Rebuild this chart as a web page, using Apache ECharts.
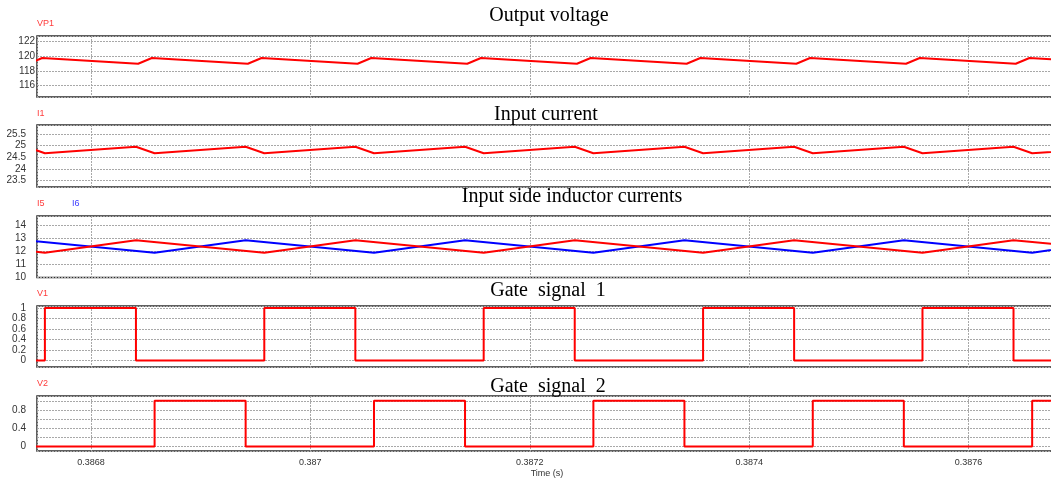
<!DOCTYPE html>
<html>
<head>
<meta charset="utf-8">
<script src="https://cdn.jsdelivr.net/npm/echarts@6/dist/echarts.min.js"></script>
<style>
  html, body { margin: 0; padding: 0; background: #fff; }
  #chart { width: 1051px; height: 481px; }
</style>
</head>
<body>
<div id="chart"></div>
<script>
// Shared time axis (s)
const timeMin = 0.3867508;
const timeMax = 0.3876779;
const timeTickLabels = [0.3868, 0.387, 0.3872, 0.3874, 0.3876];

// Panel titles
const panelTitles = ['Output voltage', 'Input current', 'Input side inductor currents', 'Gate  signal  1', 'Gate  signal  2'];

// Tick labels of each panel's value axis
const vp1Ticks = [116, 118, 120, 122];
const i1Ticks = [23.5, 24, 24.5, 25, 25.5];
const iLTicks = [10, 11, 12, 13, 14];
const v1Ticks = [0, 0.2, 0.4, 0.6, 0.8, 1];
const v2Ticks = [0, 0.4, 0.8];

// Output voltage VP1 (V): ripple knots
const vp1Time = [0.386743, 0.3867555, 0.386843, 0.3868555, 0.386943, 0.3869555, 0.387043, 0.3870555,
  0.387143, 0.3871555, 0.387243, 0.3872555, 0.387343, 0.3873555, 0.387443, 0.3874555,
  0.387543, 0.3875555, 0.387643, 0.3876555, 0.387743];
const vp1Value = [118.95, 119.72, 118.95, 119.72, 118.95, 119.72, 118.95, 119.72,
  118.95, 119.72, 118.95, 119.72, 118.95, 119.72, 118.95, 119.72,
  118.95, 119.72, 118.95, 119.72, 118.95];

// Input current I1 (A)
const i1Time = [0.386741, 0.386758, 0.386841, 0.386858, 0.386941, 0.386958, 0.387041, 0.387058,
  0.387141, 0.387158, 0.387241, 0.387258, 0.387341, 0.387358, 0.387441, 0.387458,
  0.387541, 0.387558, 0.387641, 0.387658, 0.387741];
const i1Value = [24.95, 24.67, 24.95, 24.67, 24.95, 24.67, 24.95, 24.67,
  24.95, 24.67, 24.95, 24.67, 24.95, 24.67, 24.95, 24.67,
  24.95, 24.67, 24.95, 24.67, 24.95];

// Inductor currents I5 / I6 (A)
const i5Time = [0.386641, 0.386758, 0.386841, 0.386958, 0.387041, 0.387158, 0.387241, 0.387358,
  0.387441, 0.387558, 0.387641, 0.387758];
const i5Value = [12.88, 11.92, 12.88, 11.92, 12.88, 11.92, 12.88, 11.92, 12.88, 11.92, 12.88, 11.92];
const i6Time = [0.386741, 0.386858, 0.386941, 0.387058, 0.387141, 0.387258, 0.387341, 0.387458,
  0.387541, 0.387658, 0.387741];
const i6Value = [12.88, 11.92, 12.88, 11.92, 12.88, 11.92, 12.88, 11.92, 12.88, 11.92, 12.88];

// Gate pulse edges (s)
const gate1On  = [0.386758, 0.386958, 0.387158, 0.387358, 0.387558];
const gate1Off = [0.386841, 0.387041, 0.387241, 0.387441, 0.387641];
const gate2On  = [0.386858, 0.387058, 0.387258, 0.387458, 0.387658];
const gate2Off = [0.386941, 0.387141, 0.387341, 0.387541];

function zip(t, v) { return t.map((x, i) => [x, v[i]]); }

// square wave from rising / falling edge times
function pulses(on, off) {
  const pts = [[timeMin - 0.00001, 0]];
  on.forEach((t, i) => {
    pts.push([t, 0], [t, 1]);
    if (off[i] !== undefined) pts.push([off[i], 1], [off[i], 0]);
  });
  const last = pts[pts.length - 1][1];
  pts.push([timeMax + 0.00001, last]);
  return pts;
}

const RED = '#ff0000', BLUE = '#0000ff';
const LABEL_FONT = 'Liberation Sans, Arial, sans-serif';
const TITLE_FONT = 'Liberation Serif, Times New Roman, serif';

// panel frames (px); the plot runs past the right edge of the canvas
const PLOT_LEFT = 37, PLOT_WIDTH = 1017;
const panels = [
  { top: 36,  height: 61,   min: 114.48, max: 122.67, ticks: vp1Ticks, margin: 2 },
  { top: 125, height: 62,   min: 23.217, max: 25.885, ticks: i1Ticks,  margin: 11 },
  { top: 216, height: 61.5, min: 10,     max: 14.75,  ticks: iLTicks,  margin: 11 },
  { top: 306, height: 61,   min: -0.125, max: 1.038,  ticks: v1Ticks,  margin: 11 },
  { top: 396, height: 55,   min: -0.1,   max: 1.104,  ticks: v2Ticks,  margin: 11 }
];

function inList(list, v, eps) { return list.some(x => Math.abs(x - v) < eps); }
function fmt(v) { return String(Math.round(v * 10000) / 10000); }

const gridLine = { show: true, lineStyle: { color: '#a8a8a8', width: 1, type: [2, 1] } };

const grids = panels.map(p => ({
  left: PLOT_LEFT, width: PLOT_WIDTH, top: p.top, height: p.height,
  show: true, borderColor: '#2b2b2b', borderWidth: 1.5, backgroundColor: '#fff',
  containLabel: false, outerBoundsMode: 'none'
}));

const xAxes = panels.map((p, i) => ({
  type: 'value', gridIndex: i, min: timeMin, max: timeMax,
  axisLine: { show: false }, axisTick: { show: false },
  splitLine: gridLine,
  axisLabel: {
    show: i === panels.length - 1,
    margin: 7,
    fontSize: 9, fontFamily: LABEL_FONT, color: '#333',
    formatter: v => inList(timeTickLabels, v, 1e-9) ? fmt(v) : ''
  }
}));

const yAxes = panels.map((p, i) => ({
  type: 'value', gridIndex: i, min: p.min, max: p.max,
  axisLine: { show: false }, axisTick: { show: false },
  splitLine: gridLine,
  axisLabel: {
    margin: p.margin, fontSize: 10, fontFamily: LABEL_FONT, color: '#333',
    formatter: v => inList(p.ticks, v, 1e-6) ? fmt(v) : ''
  }
}));

function trace(data, xi, color) {
  return {
    type: 'line', xAxisIndex: xi, yAxisIndex: xi, data: data,
    symbol: 'none', showSymbol: false, clip: true, animation: false,
    lineStyle: { color: color, width: 2 }, itemStyle: { color: color }
  };
}

const series = [
  trace(zip(vp1Time, vp1Value), 0, RED),
  trace(zip(i1Time, i1Value), 1, RED),
  trace(zip(i6Time, i6Value), 2, BLUE),
  trace(zip(i5Time, i5Value), 2, RED),
  trace(pulses(gate1On, gate1Off), 3, RED),
  trace(pulses(gate2On, gate2Off), 4, RED)
];

function txt(text, x, y, font, fill, align) {
  return {
    type: 'text', x: x, y: y, z: 100,
    style: { text: text, font: font, fill: fill, align: align, textAlign: align,
             verticalAlign: 'middle', textVerticalAlign: 'middle' }
  };
}

const titleFont = '20px ' + TITLE_FONT;
const nameFont = '9px ' + LABEL_FONT;

const graphic = [
  txt(panelTitles[0], 549, 16, titleFont, '#000', 'center'),
  txt(panelTitles[1], 546, 115, titleFont, '#000', 'center'),
  txt(panelTitles[2], 572, 197, titleFont, '#000', 'center'),
  txt(panelTitles[3], 548, 291, titleFont, '#000', 'center'),
  txt(panelTitles[4], 548, 386.5, titleFont, '#000', 'center'),
  txt('VP1', 37, 24, nameFont, '#ff3b3b', 'left'),
  txt('I1', 37, 114, nameFont, '#ff3b3b', 'left'),
  txt('I5', 37, 204, nameFont, '#ff3b3b', 'left'),
  txt('I6', 72, 204, nameFont, '#3b3bff', 'left'),
  txt('V1', 37, 294, nameFont, '#ff3b3b', 'left'),
  txt('V2', 37, 384, nameFont, '#ff3b3b', 'left'),
  txt('Time (s)', 547, 474, '9px ' + LABEL_FONT, '#333', 'center')
];

const chart = echarts.init(document.getElementById('chart'), null, { renderer: 'canvas' });
chart.setOption({
  animation: false,
  backgroundColor: '#fff',
  grid: grids,
  xAxis: xAxes,
  yAxis: yAxes,
  series: series,
  graphic: graphic
});
</script>
</body>
</html>
